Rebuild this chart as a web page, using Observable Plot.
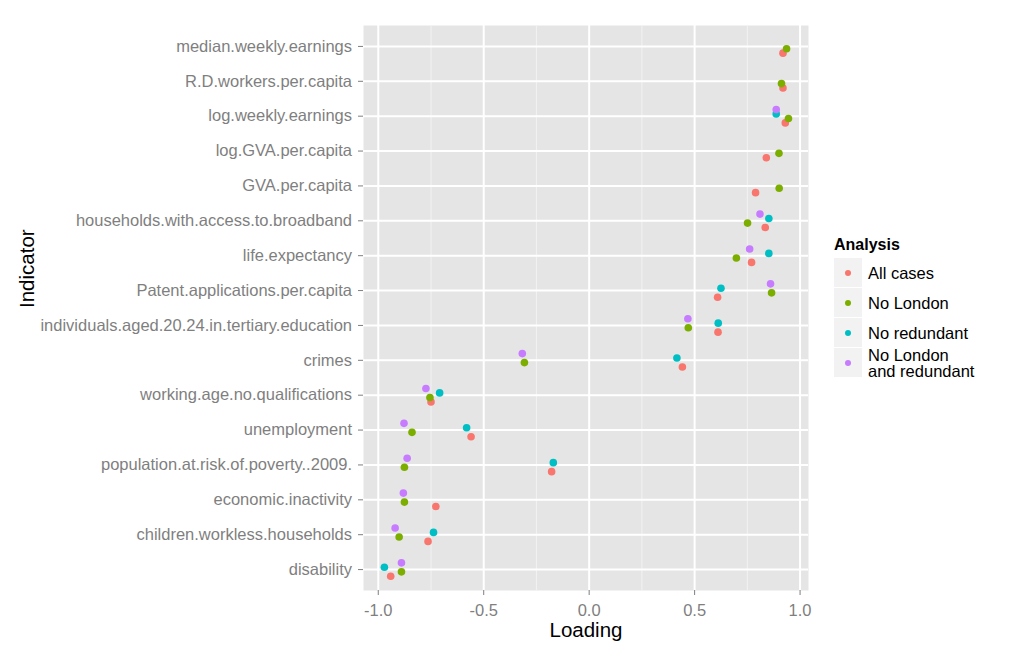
<!DOCTYPE html>
<html>
<head>
<meta charset="utf-8">
<script src="https://cdn.jsdelivr.net/npm/d3@7"></script>
<script src="https://cdn.jsdelivr.net/npm/@observablehq/plot@0.6"></script>
<style>
  html, body { margin: 0; padding: 0; background: #fff; }
  #wrap { position: relative; width: 1024px; height: 657px; font-family: "Liberation Sans", Arial, sans-serif; }
  #legend { position: absolute; left: 834px; top: 236px; }
  #legend .title { font-weight: bold; font-size: 16px; color: #000; height: 22px; line-height: 18px; }
  #legend .item { position: relative; height: 30px; }
  #legend .key { position: absolute; left: 0; top: 0; width: 28px; height: 29px; background: #F2F2F2; }
  #legend .dot { position: absolute; left: 11px; top: 12px; width: 6px; height: 6px; border-radius: 50%; }
  #legend .lab { position: absolute; left: 34px; font-size: 16.5px; color: #000; line-height: 16px; white-space: nowrap; }
</style>
</head>
<body>
<div id="wrap"><div id="chart"></div><div id="legend"></div></div>
<script>
const indicators = [
  "median.weekly.earnings",
  "R.D.workers.per.capita",
  "log.weekly.earnings",
  "log.GVA.per.capita",
  "GVA.per.capita",
  "households.with.access.to.broadband",
  "life.expectancy",
  "Patent.applications.per.capita",
  "individuals.aged.20.24.in.tertiary.education",
  "crimes",
  "working.age.no.qualifications",
  "unemployment",
  "population.at.risk.of.poverty..2009.",
  "economic.inactivity",
  "children.workless.households",
  "disability"
];
const seriesNames = ["All cases", "No London", "No redundant", "No London\nand redundant"];
const seriesColors = ["#F8766D", "#7CAE00", "#00BFC4", "#C77CFF"];

const allCases          = [0.919, 0.919, 0.930, 0.840, 0.789, 0.835, 0.770, 0.609, 0.611, 0.442, -0.750, -0.560, -0.178, -0.727, -0.764, -0.941];
const noLondon          = [0.936, 0.912, 0.945, 0.900, 0.901, 0.751, 0.698, 0.865, 0.470, -0.307, -0.755, -0.840, -0.876, -0.876, -0.901, -0.890];
const noRedundant       = [null, null, 0.887, null, null, 0.852, 0.852, 0.625, 0.612, 0.416, -0.709, -0.581, -0.170, null, -0.738, -0.971];
const noLondonRedundant = [null, null, 0.887, null, null, 0.810, 0.761, 0.860, 0.468, -0.317, -0.774, -0.878, -0.863, -0.881, -0.920, -0.890];

const xMajor = [-1, -0.5, 0, 0.5, 1];
const xMinor = [-0.75, -0.25, 0.25, 0.75];

const seriesValues = [allCases, noLondon, noRedundant, noLondonRedundant];
const seriesDy = [6.7, 2.3, -2.3, -6.7];

const dotMarks = seriesValues.map((vals, s) => {
  const rows = indicators.map((ind, i) => ({indicator: ind, loading: vals[i]})).filter(d => d.loading != null);
  return Plot.dot(rows, {x: "loading", y: "indicator", r: 3.8, fill: seriesColors[s], stroke: "none", dy: seriesDy[s]});
});

const chart = Plot.plot({
  width: 1024,
  height: 657,
  marginLeft: 363,
  marginRight: 216,
  marginTop: 25,
  marginBottom: 67,
  style: {fontFamily: "'Liberation Sans', Arial, sans-serif", background: "#fff"},
  x: {domain: [-1.07, 1.04], ticks: xMajor, tickFormat: d3.format(".1f")},
  y: {type: "point", domain: indicators, padding: 0.6, round: false},
  marks: [
    Plot.frame({fill: "#E5E5E5", stroke: "none"}),
    Plot.ruleX(xMinor, {stroke: "#F2F2F2", strokeWidth: 1}),
    Plot.ruleX(xMajor, {stroke: "#fff", strokeWidth: 2}),
    Plot.ruleY(indicators, {stroke: "#fff", strokeWidth: 2}),
    Plot.axisX({ticks: xMajor, tickFormat: d => d3.format(".1f")(d).replace("−", "-"), tickSize: 5, tickPadding: 9, fontSize: 16.5, color: "#7F7F7F", label: null}),
    Plot.axisY({tickSize: 5, tickPadding: 6.5, fontSize: 16.5, color: "#7F7F7F", label: null}),
    ...dotMarks,
    Plot.text(["Loading"], {frameAnchor: "bottom", text: d => d, dy: 46, lineAnchor: "bottom", fontSize: 20.5, fill: "#000"}),
    Plot.text(["Indicator"], {frameAnchor: "left", text: d => d, dx: -336, rotate: -90, fontSize: 20.5, fill: "#000"})
  ]
});
document.getElementById("chart").appendChild(chart);

const legend = document.getElementById("legend");
let html = '<div class="title">Analysis</div>';
seriesNames.forEach((name, i) => {
  const lines = name.split("\n");
  const top = lines.length === 1 ? 7 : -1;
  html += `<div class="item"><div class="key"><div class="dot" style="background:${seriesColors[i]}"></div></div>` +
    `<div class="lab" style="top:${top}px">${lines.join("<br>")}</div></div>`;
});
legend.innerHTML = html;
</script>
</body>
</html>
